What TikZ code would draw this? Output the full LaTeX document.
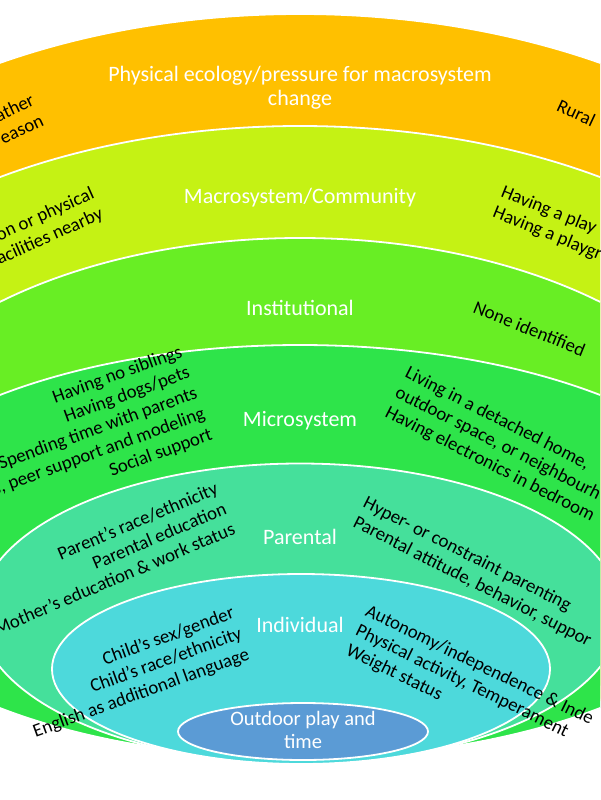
\documentclass[tikz,border=0pt]{standalone}
\usepackage{fontspec}
\setmainfont{Carlito}
\definecolor{physcol}{HTML}{FFC000}
\definecolor{macrocol}{HTML}{C5F214}
\definecolor{instcol}{HTML}{68EE24}
\definecolor{microcol}{HTML}{2EE44A}
\definecolor{parentcol}{HTML}{45E09B}
\definecolor{indivcol}{HTML}{4DD9DB}
\definecolor{playcol}{HTML}{5B9BD5}

\begin{document}
\begin{tikzpicture}[x=1pt, y=-1pt,
	ring/.style={draw=white, line width=1.8pt},
	layername/.style={text=white, font=\fontsize{22}{24}\selectfont, align=center, inner sep=0pt},
	factor/.style={text=black, font=\fontsize{18.8}{22}\selectfont, inner sep=0pt}]
	\useasboundingbox (0,0) rectangle (600,800);
	\clip (0,0) rectangle (600,800);
	
	% Schichten von aussen nach innen
	\draw [ring, fill=physcol] (300, 382) ellipse [x radius=602, y radius=368];		% Physical ecology
	\draw [ring, fill=macrocol] (300, 438) ellipse [x radius=547, y radius=312];	% Macrosystem
	\draw [ring, fill=instcol] (300, 494) ellipse [x radius=454, y radius=256];		% Institutional
	\draw [ring, fill=microcol] (300, 551.5) ellipse [x radius=460, y radius=206.5];	% Microsystem
	\draw [ring, fill=parentcol] (300, 613.5) ellipse [x radius=321, y radius=150];	% Parental
	\draw [ring, fill=indivcol] (301, 669) ellipse [x radius=249, y radius=95];		% Individual
	\draw [ring, fill=playcol] (303, 731.5) ellipse [x radius=125, y radius=28.5];	% Outdoor play
	
	% Namen der Schichten
	\node [layername] (physical) at (300, 88) {Physical ecology/pressure for macrosystem\\change};
	\node [layername] (macro) at (300, 198) {Macrosystem/Community};
	\node [layername] (inst) at (300, 308) {Institutional};
	\node [layername] (micro) at (300, 421) {Microsystem};
	\node [layername] (parental) at (300, 537) {Parental};
	\node [layername] (individual) at (300, 625) {Individual};
	\node [layername, font=\fontsize{20.5}{23}\selectfont] (play) at (303, 730) {Outdoor play and\\time};
	
	% Faktoren links
	\node [factor, align=right, rotate=25, anchor=north east] (weather) at (30, 93) {ather\\eason};
	\node [factor, align=right, rotate=24, anchor=north east] (facilities) at (90, 186) {on or physical\\acilities nearby};
	\node [factor, align=right, rotate=20, anchor=north east] (family) at (179, 344) {Having no siblings\\Having dogs/pets\\Spending time with parents\\s, peer support and modeling\\Social support};
	\node [factor, align=right, rotate=23, anchor=north east] (parentinfo) at (214, 481) {Parent’s race/ethnicity\\Parental education\\Mother’s education \& work status};
	\node [factor, align=right, rotate=20, anchor=north east] (childinfo) at (231, 605) {Child’s sex/gender\\Child’s race/ethnicity\\English as additional language};
	
	% Faktoren rechts
	\node [factor, align=left, rotate=-25, anchor=north west] (rural) at (561, 98) {Rural};
	\node [factor, align=left, rotate=-22, anchor=north west] (playspace) at (505, 184) {Having a play\\Having a playgr};
	\node [factor, align=left, rotate=-22, anchor=north west] (none) at (477, 300) {None identified};
	\node [factor, align=left, rotate=-27, anchor=north west] (home) at (410, 365) {Living in a detached home,\\outdoor space, or neighbourh\\Having electronics in bedroom};
	\node [factor, align=left, rotate=-27, anchor=north west] (parenting) at (368, 495) {Hyper- or constraint parenting\\Parental attitude, behavior, suppor};
	\node [factor, align=left, rotate=-26, anchor=north west] (autonomy) at (370, 603) {Autonomy/independence \& Inde\\Physical activity, Temperament\\Weight status};

\end{tikzpicture}
\end{document}
